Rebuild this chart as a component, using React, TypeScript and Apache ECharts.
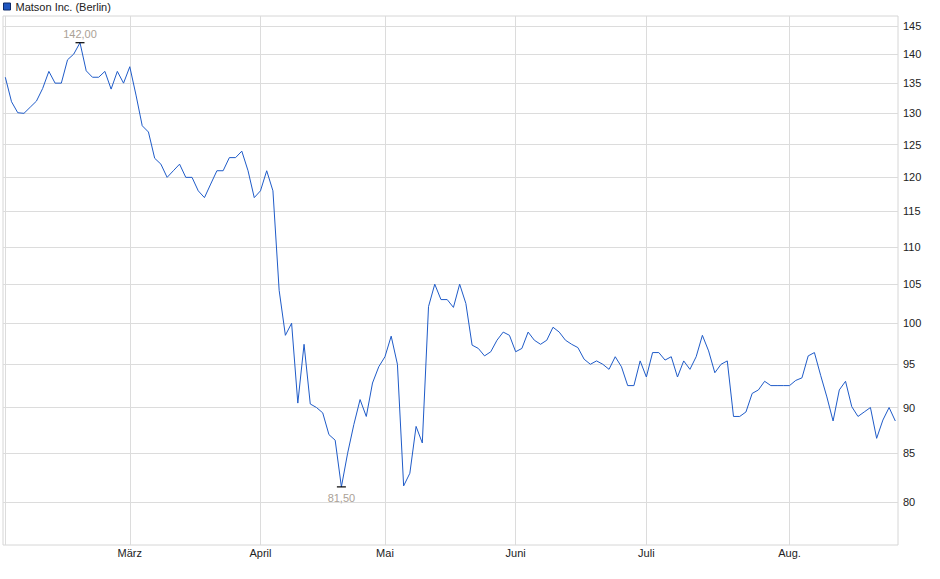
import React, { useEffect, useRef } from 'react';
import * as echarts from 'echarts';

const SERIES_NAME = 'Matson Inc. (Berlin)';

// daily closing prices (trading days, Feb 3 .. Aug)
const PRICES: number[] = [
  136.0, 131.9, 130.1, 130.0, 131.0, 132.0, 134.1, 137.0, 135.0, 135.0,
  139.0, 140.0, 142.0, 137.1, 136.0, 136.0, 137.0, 134.0, 137.0, 135.0,
  137.8, 133.0, 128.0, 127.0, 122.9, 122.0, 120.0, 121.0, 122.0, 120.0,
  120.0, 118.0, 117.0, 119.0, 121.0, 121.0, 123.0, 123.0, 124.0, 121.0,
  117.0, 118.0, 121.0, 118.0, 104.2, 98.5, 100.0, 90.5, 97.4, 90.4,
  90.0, 89.4, 87.0, 86.4, 81.5, 85.0, 88.1, 90.9, 89.0, 92.8,
  94.7, 95.9, 98.4, 95.0, 81.6, 82.9, 87.9, 86.1, 102.1, 105.0,
  103.0, 103.0, 102.0, 105.0, 102.5, 97.3, 96.9, 96.0, 96.5, 97.9,
  98.9, 98.5, 96.5, 96.9, 98.9, 97.9, 97.4, 97.9, 99.5, 98.9,
  97.9, 97.4, 97.0, 95.6, 95.0, 95.4, 95.0, 94.4, 95.9, 94.7,
  92.5, 92.5, 95.4, 93.5, 96.4, 96.4, 95.5, 95.9, 93.5, 95.4,
  94.4, 95.9, 98.5, 96.6, 94.0, 95.0, 95.4, 89.0, 89.0, 89.5,
  91.6, 92.0, 93.0, 92.5, 92.5, 92.5, 92.5, 93.1, 93.4, 96.0,
  96.4, 93.7, 91.2, 88.5, 92.0, 93.0, 90.1, 89.0, 89.5, 90.0,
  86.6, 88.6, 90.0, 88.5,
];

// index of first trading day of each month
const MONTH_START_INDEX = [0, 20, 41, 61, 82, 103, 126];
const MONTH_LABELS = ['', 'März', 'April', 'Mai', 'Juni', 'Juli', 'Aug.'];
const LABELED_MONTH_INDEX = [20, 41, 61, 82, 103, 126];

const Y_TICKS = [80, 85, 90, 95, 100, 105, 110, 115, 120, 125, 130, 135, 140, 145];

const FONT = '"Liberation Sans", Arial, sans-serif';

export default function App() {
  const ref = useRef<HTMLDivElement>(null);

  useEffect(() => {
    if (!ref.current) return;
    const chart = echarts.init(ref.current, null, { renderer: 'svg' });
    const fmt = (v: number) => v.toFixed(2).replace('.', ',');
    chart.setOption({
      animation: false,
      legend: {
        data: [{ name: SERIES_NAME, icon: 'rect' }],
        left: 3,
        top: 1,
        padding: 0,
        itemWidth: 7,
        itemHeight: 7,
        itemStyle: { color: '#1f56c0', borderColor: '#0c2a6a', borderWidth: 1 },
        textStyle: { fontSize: 11, color: '#222', fontFamily: FONT },
      },
      grid: {
        left: 3,
        right: 42,
        top: 16,
        bottom: 34,
        show: true,
        borderColor: '#d6d6d6',
        borderWidth: 1,
        containLabel: false,
        outerBoundsMode: 'none',
      },
      xAxis: {
        type: 'value',
        min: -0.37,
        max: 143.43,
        axisLine: { show: false },
        axisTick: { show: false, customValues: MONTH_START_INDEX },
        splitLine: { show: true, lineStyle: { color: '#dcdcdc', width: 1 } },
        axisLabel: {
          customValues: LABELED_MONTH_INDEX,
          formatter: (v: number) => {
            const k = MONTH_START_INDEX.indexOf(Math.round(v));
            return k >= 0 ? MONTH_LABELS[k] : '';
          },
          margin: 2,
          fontSize: 11,
          color: '#222',
          fontFamily: FONT,
        },
      },
      yAxis: {
        type: 'log',
        logBase: 10,
        position: 'right',
        min: 75.79,
        max: 146.82,
        axisLine: { show: false },
        axisTick: { show: false, customValues: Y_TICKS },
        splitLine: { show: true, lineStyle: { color: '#dcdcdc', width: 1 } },
        axisLabel: {
          customValues: Y_TICKS,
          formatter: (v: number) => String(Math.round(v)),
          margin: 5,
          fontSize: 11,
          color: '#222',
          fontFamily: FONT,
        },
      },
      series: [
        {
          name: SERIES_NAME,
          type: 'line',
          data: PRICES.map((v, i) => [i, v]),
          showSymbol: false,
          symbol: 'none',
          lineStyle: { width: 1, color: '#1f5bc8' },
          itemStyle: { color: '#1f56c0' },
          markPoint: {
            symbol: 'rect',
            symbolSize: [9, 1.2],
            itemStyle: { color: '#000' },
            label: {
              formatter: (p: any) => fmt(Array.isArray(p.value) ? p.value[1] : p.value),
              color: '#aaa196',
              fontSize: 11,
              fontFamily: FONT,
            },
            data: [
              { type: 'max', valueDim: 'y', label: { position: 'top', distance: 3 } },
              { type: 'min', valueDim: 'y', label: { position: 'bottom', distance: 5 } },
            ],
          },
        },
      ],
    });
    return () => chart.dispose();
  }, []);

  return (
    <div
      ref={ref}
      style={{ position: 'absolute', left: 0, top: 0, width: 940, height: 579 }}
    />
  );
}
